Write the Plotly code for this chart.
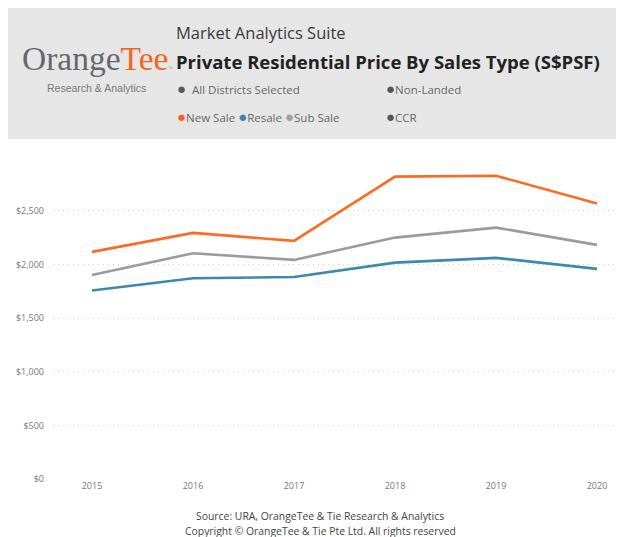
import plotly.graph_objects as go

years = [2015, 2016, 2017, 2018, 2019, 2020]
new_sale = [2118, 2295, 2220, 2820, 2828, 2570]
resale = [1757, 1872, 1884, 2018, 2062, 1959]
sub_sale = [1903, 2105, 2043, 2251, 2344, 2183]
y_ticks = [0, 500, 1000, 1500, 2000, 2500]
y_tick_labels = ["$0", "$500", "$1,000", "$1,500", "$2,000", "$2,500"]

# page body adds an 8px margin; figure sized to fit the window
OFF = 8
W, H = 616, 529
L, R, T, B = 45, 0, 160, 58
PW, PH = W - L - R, H - T - B

def px(x):
    return (x - OFF - L) / PW

def py(y):
    return (H - B - (y - OFF)) / PH

FONT = "Open Sans"

fig = go.Figure()
fig.add_trace(go.Scatter(x=years, y=new_sale, mode="lines", name="New Sale",
                         line=dict(color="#FF6A22", width=2.6)))
fig.add_trace(go.Scatter(x=years, y=sub_sale, mode="lines", name="Sub Sale",
                         line=dict(color="#9B9B9B", width=2.6)))
fig.add_trace(go.Scatter(x=years, y=resale, mode="lines", name="Resale",
                         line=dict(color="#3C88AE", width=2.6)))

shapes = [dict(type="rect", xref="paper", yref="paper",
               x0=px(8), x1=px(632), y0=py(139), y1=py(8),
               fillcolor="#E6E6E6", line=dict(width=0), layer="below")]

ann = []
def text(x, y, s, size, color="#333", anchor="left", family=FONT, yanchor="middle"):
    ann.append(dict(x=px(x), y=py(y), xref="paper", yref="paper", text=s,
                    showarrow=False, xanchor=anchor, yanchor=yanchor,
                    font=dict(size=size, color=color, family=family)))

def dot(c):
    return f"<span style='color:{c};font-size:15px'>●</span>"

text(174, 33, "Market Analytics Suite", 16.5, "#3a3a3a")
text(174, 61, "<b>Private Residential Price By Sales Type (S$PSF)</b>", 18.5, "#222")
text(175, 88, dot("#555") + "  All Districts Selected", 11.5, "#666")
text(384, 88, dot("#555") + "Non-Landed", 11.5, "#666")
text(175, 116, dot("#FF5F1F") + "New Sale " + dot("#3A86B0") + "Resale "
               + dot("#A0A0A0") + "Sub Sale", 11.5, "#666")
text(384, 116, dot("#555") + "CCR", 11.5, "#666")

# logo
text(20, 59, "<span style='color:#66676b'>Orange</span><span style='color:#F26522'>Tee</span>"
             "<span style='color:#999;font-size:6px'>®</span>", 33.5, family="Liberation Serif")
text(96, 88, "Research & Analytics", 10.5, "#777", anchor="center", family="Liberation Sans")

text(320, 516, "Source: URA, OrangeTee & Tie Research & Analytics", 10.4, "#444", anchor="center")
text(320, 531, "Copyright © OrangeTee & Tie Pte Ltd. All rights reserved", 10.4, "#444", anchor="center")

fig.update_layout(
    width=W, height=H,
    margin=dict(l=L, r=R, t=T, b=B),
    paper_bgcolor="white", plot_bgcolor="white",
    showlegend=False,
    shapes=shapes, annotations=ann,
    font=dict(family=FONT),
    xaxis=dict(range=[2015 - 39 / 101, 2020 + 27 / 101], tickvals=years,
               ticktext=[str(y) for y in years], showgrid=False, zeroline=False,
               showline=False, ticks="", tickfont=dict(size=9, color="#777"),
               fixedrange=True),
    yaxis=dict(range=[0, 2900], tickvals=y_ticks, ticktext=y_tick_labels,
               showgrid=True, gridcolor="#CFCFCF", griddash="1px,4px", gridwidth=1,
               zeroline=False, showline=False, ticks="", ticklabelstandoff=8,
               tickfont=dict(size=9, color="#777"), fixedrange=True),
)

fig.write_html("out.html")
